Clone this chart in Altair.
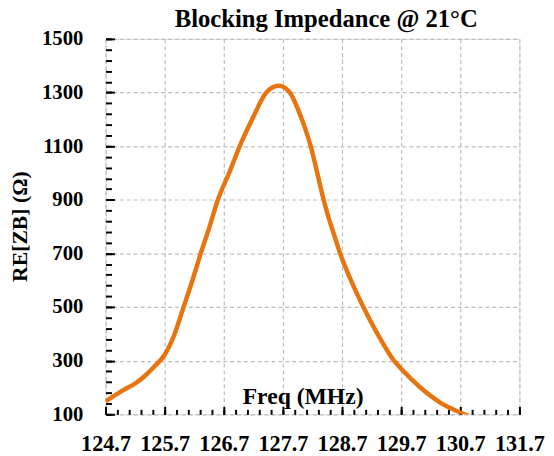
import altair as alt
import pandas as pd

# Data
freq = [124.70, 125.00, 125.20, 125.36, 125.53, 125.70, 125.86, 126.02, 126.17,
        126.31, 126.46, 126.60, 126.79, 126.97, 127.18, 127.42, 127.63, 127.81,
        127.97, 128.07, 128.17, 128.26, 128.36, 128.47, 128.58, 128.66, 128.85,
        129.06, 129.30, 129.58, 129.70, 130.03, 130.36, 130.70, 130.90]
re_zb = [148, 190, 215, 242, 279, 322, 395, 500, 600,
         700, 800, 900, 1000, 1100, 1200, 1300, 1325, 1302,
         1229, 1170, 1100, 1020, 925, 835, 760, 705, 600,
         500, 400, 300, 270, 199, 144, 107, 90]

x_labels = [124.7, 125.7, 126.7, 127.7, 128.7, 129.7, 130.7, 131.7]
y_labels = [100, 300, 500, 700, 900, 1100, 1300, 1500]
x_minor = [round(124.7 + 0.2 * k, 1) for k in range(36)]
y_minor = list(range(100, 1501, 40))

df = pd.DataFrame({"freq": freq, "re": re_zb})

W, H = 420, 381
FONT = "Liberation Serif"
xdom = alt.Scale(domain=[124.7, 131.7], nice=False, zero=False)
ydom = alt.Scale(domain=[100, 1500], nice=False, zero=False)

main = alt.Chart(df).mark_line(
    color="#E8740F", strokeWidth=4.5, interpolate="monotone", clip=True
).encode(
    x=alt.X("freq:Q", scale=xdom, axis=alt.Axis(
        orient="bottom", values=x_labels, format=".1f", tickSize=0, domain=False,
        labelFont=FONT, labelFontSize=22.5, labelFontWeight="bold", labelColor="black",
        labelPadding=19, labelOverlap=False, labelFlush=False,
        grid=True, gridColor="#bdbdbd", gridDash=[4, 3], gridWidth=1.2,
        title="Freq (MHz)", titleFont=FONT, titleFontSize=24, titleFontWeight="bold",
        titleColor="black", titleX=200, titleY=-11, titleAlign="center",
        titleBaseline="alphabetic")),
    y=alt.Y("re:Q", scale=ydom, axis=alt.Axis(
        orient="left", values=y_labels, format="d", tickSize=0, domain=False,
        labelFont=FONT, labelFontSize=21, labelFontWeight="bold", labelColor="black",
        labelPadding=23, labelOverlap=False, labelFlush=False,
        grid=True, gridColor="#bdbdbd", gridDash=[4, 3], gridWidth=1.2,
        title="RE[ZB] (Ω)", titleFont=FONT, titleFontSize=22, titleFontWeight="bold",
        titleColor="black", titleX=-87, titleY=190, titleAlign="center",
        titleBaseline="middle", titleAngle=270)),
)

def tick_layer(xvals, xsize, yvals, ysize):
    return alt.Chart(df).mark_line(strokeOpacity=0).encode(
        x=alt.X("freq:Q", scale=xdom, axis=alt.Axis(
            orient="top", offset=-H, values=xvals, tickSize=xsize, tickWidth=2,
            tickColor="black", labels=False, domain=False, grid=False, title=None)),
        y=alt.Y("re:Q", scale=ydom, axis=alt.Axis(
            orient="right", offset=-W, values=yvals, tickSize=ysize, tickWidth=2,
            tickColor="black", labels=False, domain=False, grid=False, title=None)),
    )

minor = tick_layer(x_minor, 5, y_minor, 6)
major = tick_layer(x_labels, 8, y_labels, 9)

chart = alt.layer(main, minor, major).resolve_scale(
    x="independent", y="independent"
).properties(
    width=W, height=H,
    autosize=alt.AutoSizeParams(type="none"),
    padding={"left": 99, "top": 28, "right": 27, "bottom": 42},
    title=alt.TitleParams(
        "Blocking Impedance  @ 21°C", font=FONT, fontSize=25, fontWeight="bold",
        color="black", anchor="middle", frame="group", dx=14, offset=-29,
        baseline="bottom"),
).configure_view(
    stroke="black", strokeWidth=2.5
).configure(background="white")

chart.save("out.html", embed_options={"renderer": "svg", "actions": False})
